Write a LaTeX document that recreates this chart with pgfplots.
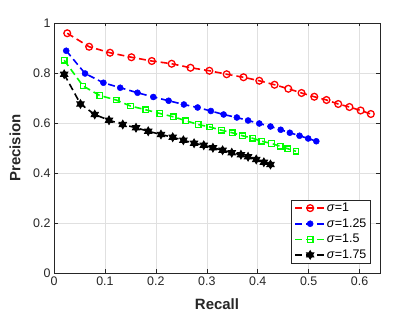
\documentclass[border=0pt]{standalone}
\usepackage{pgfplots}
\pgfplotsset{compat=1.18}
\usepackage{fontspec}
\setmainfont{Liberation Sans}
\definecolor{axgray}{rgb}{0.15,0.15,0.15}
\definecolor{gridgray}{rgb}{0.88,0.88,0.88}
\pgfdeclareplotmark{hexagram}{%
 \pgfpathmoveto{\pgfqpointpolar{90}{\pgfplotmarksize}}%
 \pgfpathlineto{\pgfqpointpolar{210}{\pgfplotmarksize}}%
 \pgfpathlineto{\pgfqpointpolar{330}{\pgfplotmarksize}}%
 \pgfpathclose
 \pgfpathmoveto{\pgfqpointpolar{270}{\pgfplotmarksize}}%
 \pgfpathlineto{\pgfqpointpolar{30}{\pgfplotmarksize}}%
 \pgfpathlineto{\pgfqpointpolar{150}{\pgfplotmarksize}}%
 \pgfpathclose
 \pgfusepathqfillstroke}
\begin{document}
\begin{tikzpicture}
\useasboundingbox (0,0) rectangle (420bp,315bp);
\begin{axis}[
 at={(54bp,42bp)}, anchor=south west,
 scale only axis, width=326bp, height=250bp,
 xmin=0, xmax=0.64, ymin=0, ymax=1,
 xtick={0,0.1,0.2,0.3,0.4,0.5,0.6},
 ytick={0,0.2,0.4,0.6,0.8,1},
 grid=major, major grid style={gridgray, line width=0.5bp},
 axis line style={axgray, line width=0.6bp},
 tick style={axgray, line width=0.6bp}, tick align=inside, major tick length=3.5bp,
 ticklabel style={font=\fontsize{12.5}{14}\selectfont, text=axgray},
 /pgf/number format/assume math mode=true,
 xlabel={Recall}, ylabel={Precision},
 label style={font=\fontsize{15}{17}\selectfont\bfseries, text=axgray},
 xlabel style={at={(axis description cs:0.5,-0.145)}, anchor=base, inner sep=0pt},
 ylabel style={at={(axis description cs:-0.102,0.5)}, anchor=south, inner sep=0pt},
 legend style={at={(0.9715,0.039)}, anchor=south east, font=\fontsize{12.5}{14}\selectfont,
   draw=axgray, line width=0.6bp, inner xsep=3bp, inner ysep=2.5bp, row sep=4.5bp,
   nodes={inner xsep=1bp, inner ysep=0.5bp}},
 legend cell align=left,
 legend image code/.code={\draw[mark repeat=2,mark phase=2] plot coordinates {(0bp,0bp) (15bp,0bp) (30bp,0bp)};},
 every axis plot/.append style={line width=1.6bp, dash pattern=on 7bp off 4bp},
]
\addplot[red, mark=o, mark size=3.4bp, mark options={solid, line width=1.3bp}] coordinates {
(0.026,0.959)(0.069,0.905)(0.110,0.881)(0.152,0.863)(0.192,0.848)(0.231,0.837)(0.268,0.821)(0.305,0.809)(0.339,0.795)(0.372,0.783)(0.403,0.769)(0.433,0.753)(0.460,0.737)(0.486,0.720)(0.511,0.705)(0.535,0.692)(0.558,0.676)(0.580,0.664)(0.602,0.650)(0.622,0.636)};
\addlegendentry{\textit{σ}=1\hspace{6bp}}
\addplot[blue, mark=*, mark size=3bp, mark options={solid, line width=0.5bp}] coordinates {
(0.024,0.889)(0.061,0.798)(0.097,0.761)(0.130,0.741)(0.164,0.721)(0.195,0.704)(0.225,0.689)(0.255,0.674)(0.282,0.662)(0.308,0.648)(0.333,0.634)(0.359,0.622)(0.381,0.610)(0.403,0.598)(0.425,0.586)(0.445,0.573)(0.463,0.561)(0.482,0.549)(0.499,0.538)(0.515,0.527)};
\addlegendentry{\textit{σ}=1.25\hspace{6bp}}
\addplot[green, mark=square, mark size=2.8bp, mark options={solid, line width=1.3bp}] coordinates {
(0.020,0.851)(0.057,0.748)(0.090,0.710)(0.122,0.692)(0.150,0.668)(0.180,0.653)(0.208,0.638)(0.234,0.625)(0.259,0.609)(0.283,0.594)(0.306,0.584)(0.329,0.571)(0.350,0.561)(0.370,0.549)(0.390,0.539)(0.408,0.527)(0.427,0.518)(0.444,0.507)(0.459,0.497)(0.475,0.487)};
\addlegendentry{\textit{σ}=1.5\hspace{6bp}}
\addplot[black, mark=hexagram, mark size=4.3bp, mark options={solid, fill=black, line width=0.8bp}] coordinates {
(0.020,0.795)(0.052,0.676)(0.080,0.634)(0.108,0.611)(0.135,0.594)(0.161,0.581)(0.185,0.567)(0.210,0.554)(0.233,0.543)(0.254,0.531)(0.275,0.519)(0.294,0.511)(0.312,0.501)(0.331,0.491)(0.349,0.481)(0.367,0.473)(0.381,0.465)(0.397,0.454)(0.412,0.443)(0.425,0.434)};
\addlegendentry{\textit{σ}=1.75\hspace{6bp}}
\end{axis}
\end{tikzpicture}
\end{document}
